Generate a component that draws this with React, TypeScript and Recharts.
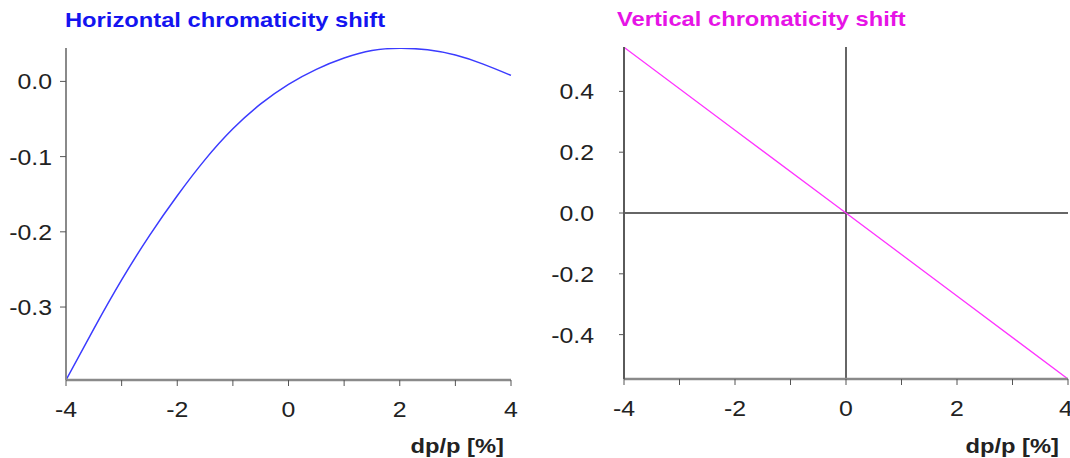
import { LineChart, Line, XAxis, YAxis, ReferenceLine } from 'recharts';

// dp/p [%] sample points shared by both panels
const X_TICKS = [-4, -3, -2, -1, 0, 1, 2, 3, 4];

// horizontal chromaticity shift, every 0.5 %
const H_DP = [-4, -3.5, -3, -2.5, -2, -1.5, -1, -0.5, 0, 0.5, 1, 1.5, 2, 2.5, 3, 3.5, 4];
const H_SHIFT = [
  -0.397, -0.329, -0.264, -0.205, -0.152, -0.104, -0.063, -0.030, -0.004,
  0.016, 0.031, 0.041, 0.044, 0.042, 0.035, 0.023, 0.008,
];
const H_YTICKS = [-0.3, -0.2, -0.1, 0];
const H_DOMAIN: [number, number] = [-0.397, 0.0444];

// vertical chromaticity shift (straight line through the origin)
const V_DP = [-4, -2, 0, 2, 4];
const V_SHIFT = [0.545, 0.272, 0, -0.273, -0.546];
const V_YTICKS = [-0.4, -0.2, 0, 0.2, 0.4];
const V_DOMAIN: [number, number] = [-0.546, 0.546];

const FONT = "'Liberation Sans', Arial, sans-serif";
const STRETCH = 1.13; // source text is a bit wider than plain Arial
const TEXT = '#222';

const hData = H_DP.map((dp, i) => ({ dp, shift: H_SHIFT[i] }));
const vData = V_DP.map((dp, i) => ({ dp, shift: V_SHIFT[i] }));

function XTick(props: any) {
  const { x, y, payload } = props;
  if (payload.value % 2 !== 0) return <g />;
  return (
    <text
      transform={`translate(${x},${y + 29}) scale(${STRETCH},1)`}
      textAnchor="middle"
      fontFamily={FONT}
      fontSize={22}
      fill={TEXT}
    >
      {payload.value}
    </text>
  );
}

function YTick(props: any) {
  const { x, y, payload } = props;
  return (
    <text
      transform={`translate(${x},${y + 8}) scale(${STRETCH},1)`}
      textAnchor="end"
      fontFamily={FONT}
      fontSize={22}
      fill={TEXT}
    >
      {Number(payload.value).toFixed(1)}
    </text>
  );
}

function Caption({ x, y, color, anchor, children }: any) {
  return (
    <text
      transform={`translate(${x},${y}) scale(${STRETCH},1)`}
      textAnchor={anchor ?? 'start'}
      fontFamily={FONT}
      fontWeight="bold"
      fontSize={21}
      fill={color}
    >
      {children}
    </text>
  );
}

function HorizontalPanel() {
  return (
    <LineChart width={540} height={458} data={hData} margin={{ top: 48, right: 29, bottom: 0, left: 0 }}>
      <XAxis
        dataKey="dp"
        type="number"
        domain={[-4, 4]}
        ticks={X_TICKS}
        height={78}
        tickSize={6}
        tick={(p: any) => <XTick {...p} />}
        axisLine={{ stroke: '#8a8a8a', strokeWidth: 2.5 }}
        tickLine={{ stroke: '#555' }}
      />
      <XAxis
        xAxisId="top"
        orientation="top"
        type="number"
        domain={[-4, 4]}
        height={0}
        tick={false}
        tickLine={false}
        axisLine={{ stroke: '#a0a0a0', strokeWidth: 3 }}
      />
      <YAxis
        type="number"
        domain={H_DOMAIN}
        ticks={H_YTICKS}
        width={66}
        tickSize={6}
        tickMargin={8}
        tick={(p: any) => <YTick {...p} />}
        axisLine={{ stroke: '#8a8a8a', strokeWidth: 2 }}
        tickLine={{ stroke: '#555' }}
        allowDataOverflow
      />
      <YAxis
        yAxisId="right"
        orientation="right"
        width={0}
        tick={false}
        tickLine={false}
        axisLine={{ stroke: '#404040', strokeWidth: 1.5 }}
      />
      <Line
        type="natural"
        dataKey="shift"
        stroke="#3b3bff"
        strokeWidth={1.5}
        dot={false}
        isAnimationActive={false}
      />
    </LineChart>
  );
}

function VerticalPanel() {
  return (
    <LineChart width={530} height={458} data={vData} margin={{ top: 47, right: 2, bottom: 0, left: 0 }}>
      <XAxis
        dataKey="dp"
        type="number"
        domain={[-4, 4]}
        ticks={X_TICKS}
        height={79}
        tickSize={6}
        tick={(p: any) => <XTick {...p} />}
        axisLine={{ stroke: '#8a8a8a', strokeWidth: 2.5 }}
        tickLine={{ stroke: '#555' }}
      />
      <XAxis
        xAxisId="top"
        orientation="top"
        type="number"
        domain={[-4, 4]}
        height={0}
        tick={false}
        tickLine={false}
        axisLine={{ stroke: '#5a5a5a', strokeWidth: 2 }}
      />
      <YAxis
        type="number"
        domain={V_DOMAIN}
        ticks={V_YTICKS}
        width={84}
        tickSize={5}
        tickMargin={25}
        tick={(p: any) => <YTick {...p} />}
        axisLine={{ stroke: '#5a5a5a', strokeWidth: 2 }}
        tickLine={{ stroke: '#555' }}
        allowDataOverflow
      />
      <YAxis
        yAxisId="right"
        orientation="right"
        width={0}
        tick={false}
        tickLine={false}
        axisLine={{ stroke: '#404040', strokeWidth: 1.5 }}
      />
      <ReferenceLine x={0} stroke="#333" strokeWidth={1.5} />
      <ReferenceLine y={0} stroke="#333" strokeWidth={1.5} />
      <Line
        type="linear"
        dataKey="shift"
        stroke="#ff33ff"
        strokeWidth={1.3}
        dot={false}
        isAnimationActive={false}
      />
    </LineChart>
  );
}

export default function App() {
  return (
    <div style={{ position: 'absolute', left: 0, top: 0, width: 1070, height: 458, background: '#fff', overflow: 'hidden' }}>
      <div style={{ position: 'absolute', left: 0, top: 0 }}>
        <HorizontalPanel />
      </div>
      <div style={{ position: 'absolute', left: 540, top: 0 }}>
        <VerticalPanel />
      </div>
      <svg width={1070} height={458} style={{ position: 'absolute', left: 0, top: 0, pointerEvents: 'none' }}>
        <Caption x={65} y={27} color="#1414f0">Horizontal chromaticity shift</Caption>
        <Caption x={617} y={26} color="#e614e6">Vertical chromaticity shift</Caption>
        <Caption x={504} y={453} color={TEXT} anchor="end">dp/p [%]</Caption>
        <Caption x={1059} y={453} color={TEXT} anchor="end">dp/p [%]</Caption>
      </svg>
    </div>
  );
}
